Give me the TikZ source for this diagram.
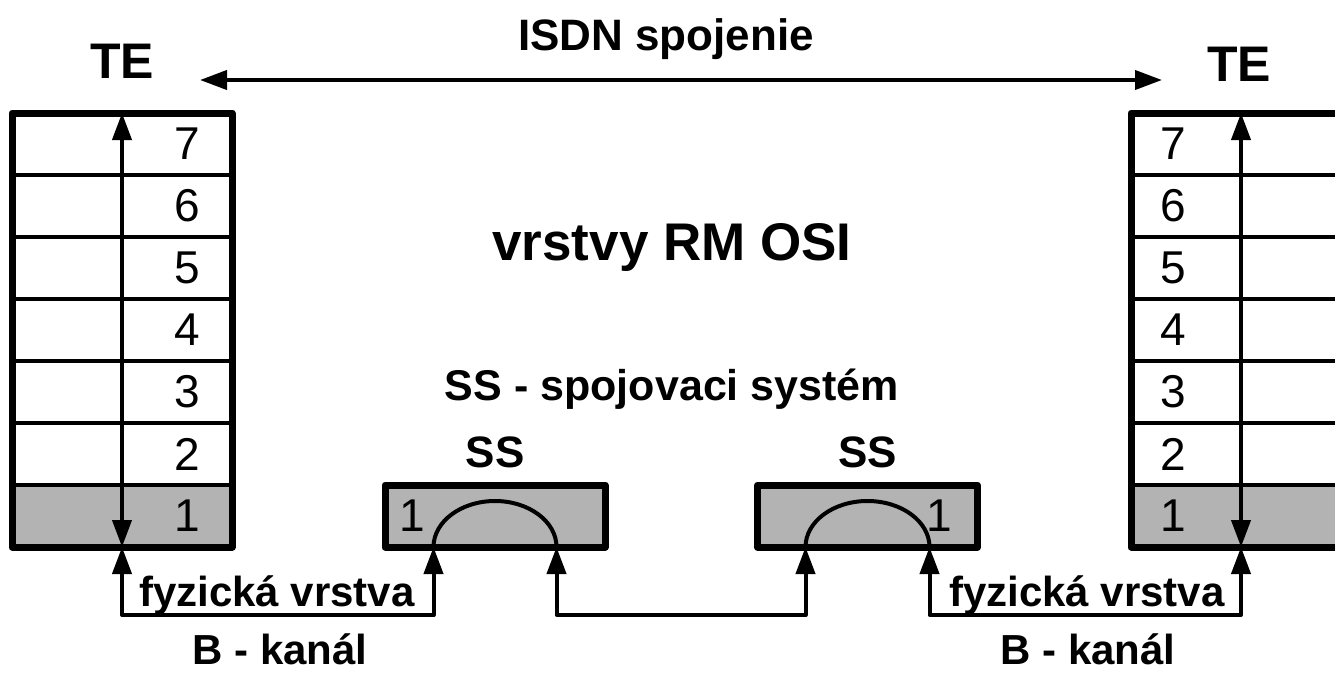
\documentclass[tikz,border=0pt]{standalone}
\usepackage{fontspec}
\setmainfont{Liberation Sans}
\usepackage{xcolor}
\usepackage{tikz}
\usetikzlibrary{positioning,arrows.meta,calc}
\definecolor{layergray}{RGB}{179,179,179}
\tikzset{osi/.style={x=1pt,y=-1pt,line join=round,>={Triangle[length=27pt,width=19pt]}},
    layer/.style={rectangle,draw,line width=4.5pt,minimum width=220pt,minimum height=62pt,inner sep=0pt,outer sep=0pt},
    phys/.style={layer,fill=layergray},
    frame/.style={line width=7pt},
    ssbox/.style={rectangle,draw,line width=7pt,fill=layergray,minimum width=220pt,minimum height=62pt,inner sep=0pt,outer sep=0pt},
    link/.style={<->,line width=4pt},
    digit/.style={font=\fontsize{46}{55}\selectfont,inner sep=0pt},
    title/.style={font=\fontsize{51}{60}\selectfont\bfseries,anchor=base,inner sep=0pt},
    caption/.style={font=\fontsize{42}{50}\selectfont\bfseries,anchor=base,inner sep=0pt}}

\begin{document}
\begin{tikzpicture}[osi]
    \useasboundingbox (0,0) rectangle (1335,672);
    \fill[white] (0,0) rectangle (1335,672);
    \clip (0,0) rectangle (1335,672);

    % TE stacks
    \foreach \n/\kind in {1/phys,2/layer,3/layer,4/layer,5/layer,6/layer,7/layer}{
        \node[\kind](L\n) at (122,{516-62*(\n-1)})[label={[digit,xshift=65pt]center:\n}]{};
        \node[\kind](R\n) at (1241,{516-62*(\n-1)})[label={[digit,xshift=-68pt]center:\n}]{};
    }
    \draw[frame] (L7.north west) rectangle (L1.south east);
    \draw[frame] (R7.north west) rectangle (R1.south east);
    \draw[link] (L1.south) -- (L7.north);
    \draw[link] (R1.south) -- (R7.north);

    % switching systems
    \node[ssbox](ssA) at (495,516)[label={[digit,xshift=-83pt]center:1}]{};
    \node[ssbox](ssB) at (867.5,516)[label={[digit,xshift=72pt]center:1}]{};
    \coordinate (ssAl) at ($(ssA.south)+(-61.5,0)$);
    \coordinate (ssAr) at ($(ssA.south)+(61.5,0)$);
    \coordinate (ssBl) at ($(ssB.south)+(-62,0)$);
    \coordinate (ssBr) at ($(ssB.south)+(62,0)$);
    \draw[line width=4pt] (ssAl) arc[start angle=180,end angle=360,x radius=61.5,y radius=46];
    \draw[line width=4pt] (ssBl) arc[start angle=180,end angle=360,x radius=62,y radius=46];
    \node[title,font=\fontsize{44}{52}\selectfont\bfseries,anchor=south](ssAt)[above=17pt of ssA]{SS};
    \node[title,font=\fontsize{44}{52}\selectfont\bfseries,anchor=south](ssBt)[above=17pt of ssB]{SS};

    % B channel
    \draw[link] (L1.south) -- ++(0,68) -| (ssAl);
    \draw[link] (ssAr) -- ++(0,68) -| (ssBl);
    \draw[link] (ssBr) -- ++(0,68) -| (R1.south);
    \node[caption](physA) at (277,606){fyzická vrstva};
    \node[caption](physB) at (1087,606){fyzická vrstva};
    \node[caption](chanA) at (280,664){B - kanál};
    \node[caption](chanB) at (1088,664){B - kanál};

    % top
    \node[title,font=\fontsize{50}{60}\selectfont\bfseries](teA) at (122,78){TE};
    \node[title,font=\fontsize{50}{60}\selectfont\bfseries](teB) at (1239,81){TE};
    \node[title,font=\fontsize{44}{52}\selectfont\bfseries](isdn) at (666,50){ISDN spojenie};
    \coordinate (isdnL) at (200,80);
    \coordinate (isdnR) at (1162,80);
    \draw[link] (isdnL) -- (isdnR);
    \node[title,font=\fontsize{53}{62}\selectfont\bfseries](osi) at (672,260){vrstvy RM OSI};
    \node[caption,font=\fontsize{43}{52}\selectfont\bfseries](ssdef) at (672,400){SS - spojovaci systém};
\end{tikzpicture}
\end{document}
